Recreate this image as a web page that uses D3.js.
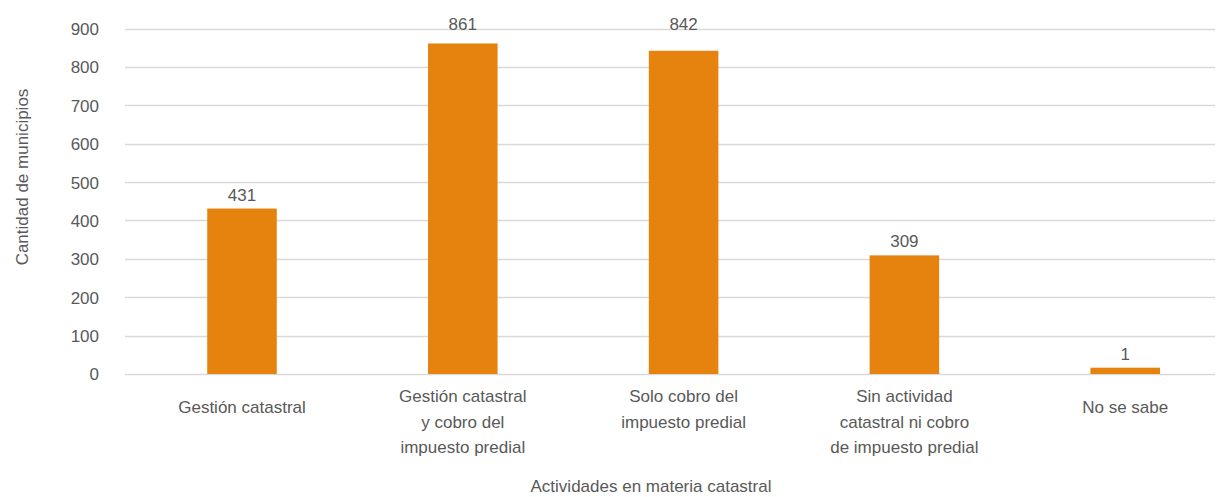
<!DOCTYPE html>
<html><head><meta charset="utf-8">
<script src="https://cdn.jsdelivr.net/npm/d3@7"></script>
<style>body{margin:0;background:#fff}svg{display:block}text{font-family:"Liberation Sans",Arial,sans-serif;fill:#595959}</style>
</head><body><svg id="c" width="1218" height="497"></svg>
<script>
const categories = [
  ["Gestión catastral"],
  ["Gestión catastral","y cobro del","impuesto predial"],
  ["Solo cobro del","impuesto predial"],
  ["Sin actividad","catastral ni cobro","de impuesto predial"],
  ["No se sabe"]
];
const values = [431, 861, 842, 309, 1];
const yTicks = [0,100,200,300,400,500,600,700,800,900];
const yTitle = "Cantidad de municipios";
const xTitle = "Actividades en materia catastral";

const svg = d3.select("#c");
const x = d3.scaleBand().domain(d3.range(categories.length)).range([131.6, 1235.6]).padding(0);
const y = d3.scaleLinear().domain([0, 900]).range([374, 28.5]);
const barW = x.bandwidth() * 0.315;

// gridlines
svg.append("g").selectAll("line").data(yTicks).join("line")
  .attr("x1", 125).attr("x2", 1215)
  .attr("y1", d => Math.round(y(d)) + 0.5).attr("y2", d => Math.round(y(d)) + 0.5)
  .attr("stroke", "#d9d9d9").attr("stroke-width", 1.5);

// y axis labels
const yAxis = d3.axisLeft(y).tickValues(yTicks).tickSize(0).tickPadding(0);
const gy = svg.append("g").attr("transform", "translate(99,0)").call(yAxis);
gy.select(".domain").remove();
gy.selectAll("text").style("font-size", "17px").attr("fill", "#595959").attr("dy", "0.35em");

// bars
const minH = 6.3;
const barTop = d => Math.min(y(d), y(0) - minH);
svg.append("g").selectAll("rect").data(values).join("rect")
  .attr("x", (d, i) => x(i) + x.bandwidth() / 2 - barW / 2)
  .attr("width", barW)
  .attr("y", barTop)
  .attr("height", d => y(0) - barTop(d))
  .attr("fill", "#e6830f");

// value labels (kept inside the top of the plot area)
svg.append("g").selectAll("text").data(values).join("text")
  .attr("x", (d, i) => x(i) + x.bandwidth() / 2)
  .attr("y", d => (barTop(d) - 8 < 50 ? 30 : barTop(d) - 8))
  .attr("text-anchor", "middle").style("font-size", "17px")
  .text(d => d);

// category labels
const cg = svg.append("g").selectAll("text").data(categories).join("text")
  .attr("text-anchor", "middle").style("font-size", "17px")
  .attr("transform", (d, i) => `translate(${x(i) + x.bandwidth() / 2},${d.length > 1 ? 402 : 413})`);
cg.selectAll("tspan").data(d => d).join("tspan")
  .attr("x", 0).attr("y", (d, j) => j * 25.5).text(d => d);

// axis titles
svg.append("text").attr("x", 651).attr("y", 492).attr("text-anchor", "middle")
  .style("font-size", "17px").text(xTitle);
svg.append("text").attr("transform", "translate(28,177) rotate(-90)").attr("text-anchor", "middle")
  .style("font-size", "17px").text(yTitle);
</script></body></html>
